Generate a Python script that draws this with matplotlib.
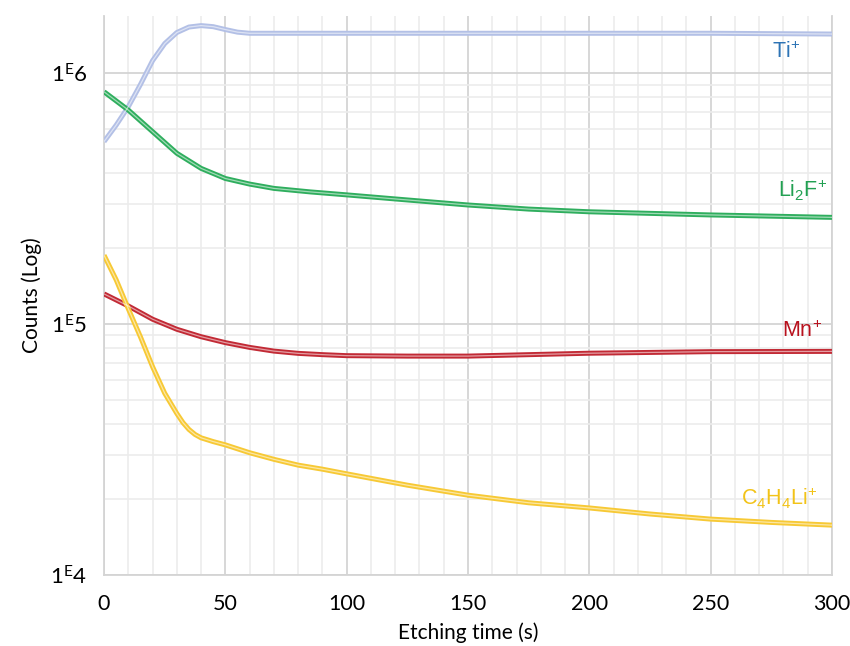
import matplotlib
matplotlib.use("Agg")
import matplotlib.pyplot as plt
from matplotlib.ticker import MultipleLocator, LogLocator, FixedLocator, NullFormatter

plt.rcParams['mathtext.default'] = 'regular'

# ---- data ----
ti_x = [0, 5, 10, 15, 20, 25, 30, 35, 40, 45, 50, 55, 60, 80, 100, 150, 200, 250, 300]
ti_y = [5.33e5, 6.2e5, 7.34e5, 9.0e5, 1.12e6, 1.31e6, 1.45e6, 1.525e6, 1.545e6, 1.53e6, 1.49e6,
        1.455e6, 1.44e6, 1.44e6, 1.44e6, 1.44e6, 1.44e6, 1.44e6, 1.43e6]

li2f_x = [0, 10, 20, 30, 40, 50, 60, 70, 85, 100, 120, 150, 175, 200, 250, 300]
li2f_y = [8.42e5, 7.12e5, 5.84e5, 4.79e5, 4.17e5, 3.80e5, 3.61e5, 3.47e5, 3.36e5, 3.27e5,
          3.15e5, 2.98e5, 2.87e5, 2.80e5, 2.72e5, 2.66e5]

mn_x = [0, 10, 20, 30, 40, 50, 60, 70, 80, 90, 100, 125, 150, 200, 250, 300]
mn_y = [1.318e5, 1.18e5, 1.045e5, 9.53e4, 8.90e4, 8.43e4, 8.07e4, 7.80e4, 7.64e4, 7.55e4,
        7.48e4, 7.45e4, 7.45e4, 7.65e4, 7.76e4, 7.78e4]

c4_x = [0, 5, 10, 15, 20, 25, 30, 32.5, 35, 37.5, 40, 45, 50, 60, 70, 80, 90, 100, 125, 150,
        175, 200, 225, 250, 275, 300]
c4_y = [1.88e5, 1.50e5, 1.15e5, 8.89e4, 6.76e4, 5.30e4, 4.40e4, 4.05e4, 3.80e4, 3.63e4, 3.52e4,
        3.40e4, 3.30e4, 3.07e4, 2.89e4, 2.74e4, 2.64e4, 2.53e4, 2.28e4, 2.08e4, 1.94e4, 1.85e4,
        1.75e4, 1.67e4, 1.62e4, 1.58e4]

labels = [r'Ti$^{+}$', r'Li$_{2}$F$^{+}$', r'Mn$^{+}$', r'C$_{4}$H$_{4}$Li$^{+}$']
label_x = [287, 298, 296, 294]
label_y = [1.21e6, 3.42e5, 9.35e4, 2.02e4]

line_colors = ['#b3c0e6', '#2fae5e', '#c22a35', '#f7c935']
text_colors = ['#2e74b5', '#22a052', '#b8111d', '#f2c318']

ytick_vals = [1e4, 1e5, 1e6]
ytick_labels = [r'$1^{E}4$', r'$1^{E}5$', r'$1^{E}6$']
xtick_vals = [0, 50, 100, 150, 200, 250, 300]

# ---- figure ----
fig = plt.figure(figsize=(8.5, 6.46), dpi=100)
ax = fig.add_axes([0.1224, 0.1099, 0.8564, 0.8653])
ax.set_yscale('log')
ax.set_xlim(0, 300)
ax.set_ylim(1e4, 1.687e6)

series = [(ti_x, ti_y), (li2f_x, li2f_y), (mn_x, mn_y), (c4_x, c4_y)]
for (xs, ys), c in zip(series, line_colors):
    ax.plot(xs, ys, color=c, lw=3.6, solid_capstyle='butt', solid_joinstyle='round', zorder=3)
    ax.plot(xs, ys, color='white', lw=0.9, alpha=0.55, solid_capstyle='butt',
            solid_joinstyle='round', zorder=4)

for lab, lx, ly, tc in zip(labels, label_x, label_y, text_colors):
    ax.text(lx, ly, lab, color=tc, fontsize=15.5, ha='right', va='center',
            family='Liberation Sans', zorder=5)

# grid
ax.xaxis.set_major_locator(FixedLocator(xtick_vals))
ax.xaxis.set_minor_locator(MultipleLocator(10))
ax.yaxis.set_major_locator(FixedLocator(ytick_vals))
ax.yaxis.set_minor_locator(LogLocator(base=10, subs=range(2, 10)))
ax.yaxis.set_minor_formatter(NullFormatter())
ax.grid(which='major', color='#d4d4d4', lw=1.3, zorder=1)
ax.grid(which='minor', color='#ececec', lw=1.2, zorder=0)
ax.set_axisbelow(True)

ax.set_xticklabels([str(v) for v in xtick_vals])
ax.set_yticklabels(ytick_labels)
ax.tick_params(which='both', length=0)
ax.tick_params(axis='x', pad=14, labelsize=15.5)
ax.tick_params(axis='y', pad=12, labelsize=16)
for t in ax.get_xticklabels() + ax.get_yticklabels():
    t.set_family('Lato')

ax.spines['top'].set_visible(False)
for s in ['left', 'bottom', 'right']:
    ax.spines[s].set_color('#d4d4d4')
    ax.spines[s].set_linewidth(1.3)

ax.set_xlabel('Etching time (s)', fontsize=15, family='Lato', labelpad=6)
ax.set_ylabel('Counts (Log)', fontsize=15, family='Lato', labelpad=6)

fig.savefig('out.png', dpi=100)
